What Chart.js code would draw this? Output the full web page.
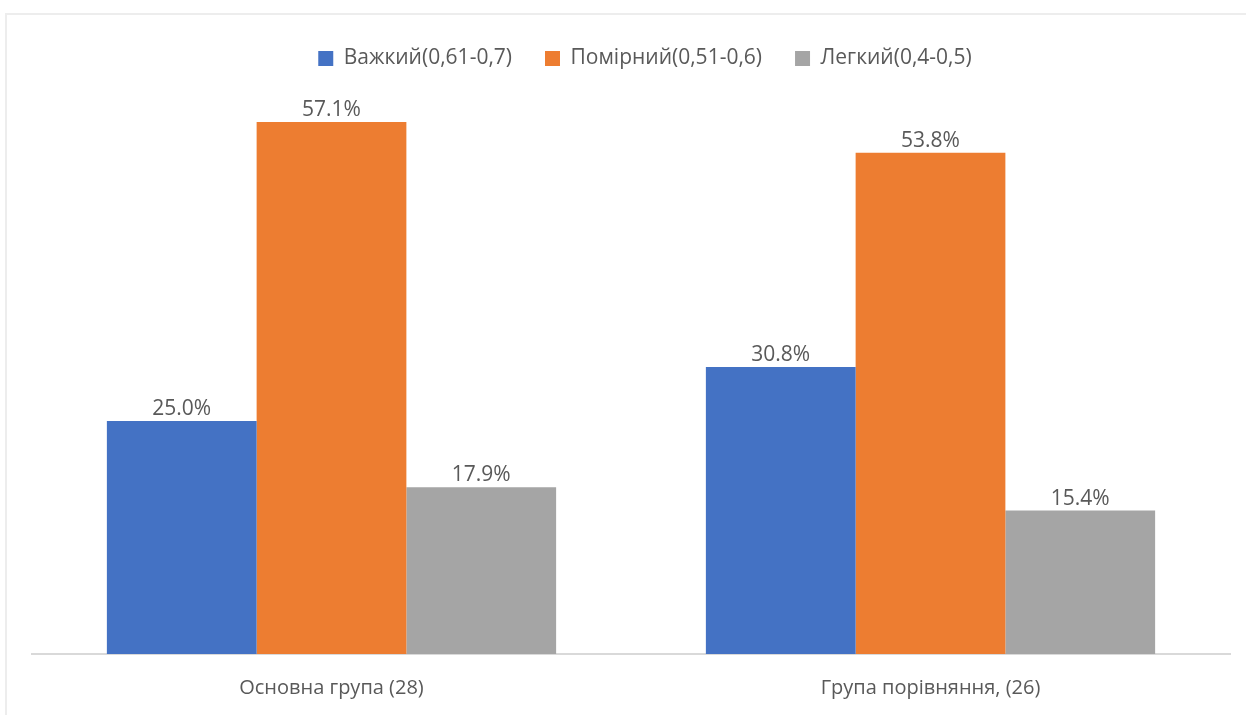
<!DOCTYPE html>
<html>
<head>
<meta charset="utf-8">
<script src="https://cdn.jsdelivr.net/npm/chart.js@4"></script>
<style>
  body { margin: 0; background: #fff; }
  #frame { position: absolute; left: 5px; top: 13px; width: 1400px; height: 800px; border: 2px solid #ededed; }
  #wrap { position: absolute; left: 0; top: 0; width: 1246px; height: 715px; }
</style>
</head>
<body>
<div id="frame"></div>
<div id="wrap"><canvas id="chart"></canvas></div>
<script>
// Chart data
const categories = ['Основна група (28)', 'Група порівняння, (26)'];
const seriesNames = ['Важкий(0,61-0,7)', 'Помірний(0,51-0,6)', 'Легкий(0,4-0,5)'];
const severe = [25.0, 30.8];
const moderate = [57.1, 53.8];
const mild = [17.9, 15.4];

const textColor = '#595959';
const fontFamily = "'Open Sans', 'DejaVu Sans', sans-serif";

// Value labels above bars
const barLabels = {
  id: 'barLabels',
  afterDatasetsDraw(chart) {
    const ctx = chart.ctx;
    ctx.save();
    ctx.font = '21px ' + fontFamily;
    ctx.fillStyle = textColor;
    ctx.textAlign = 'center';
    ctx.textBaseline = 'middle';
    chart.data.datasets.forEach((ds, i) => {
      chart.getDatasetMeta(i).data.forEach((bar, j) => {
        ctx.fillText(ds.data[j].toFixed(1) + '%', bar.x, bar.y - 12);
      });
    });
    ctx.restore();
  }
};

// Extra room under the legend, legend nudged a bit to the right
const legendSpacer = {
  id: 'legendSpacer',
  beforeInit(chart) {
    const fit = chart.legend.fit;
    chart.legend.fit = function () {
      fit.call(this);
      this.height += 16;
    };
  },
  afterLayout(chart) {
    chart.legend.left += 14;
    chart.legend.right += 14;
  }
};

new Chart(document.getElementById('chart'), {
  type: 'bar',
  data: {
    labels: categories,
    datasets: [
      { label: seriesNames[0], data: severe, backgroundColor: '#4472C4' },
      { label: seriesNames[1], data: moderate, backgroundColor: '#ED7D31' },
      { label: seriesNames[2], data: mild, backgroundColor: '#A5A5A5' },
    ],
  },
  options: {
    responsive: true,
    maintainAspectRatio: false,
    animation: false,
    layout: { padding: { top: 15, left: 32, right: 16, bottom: 1 } },
    datasets: { bar: { categoryPercentage: 0.75, barPercentage: 1.0 } },
    plugins: {
      legend: {
        position: 'top',
        labels: {
          boxWidth: 15,
          boxHeight: 15,
          padding: 33,
          color: textColor,
          font: { family: fontFamily, size: 21 },
        },
      },
      tooltip: { enabled: false },
    },
    scales: {
      x: {
        grid: { display: false },
        border: { display: true, color: '#d9d9d9', width: 2 },
        ticks: { color: textColor, padding: 14, font: { family: fontFamily, size: 20 } },
      },
      y: {
        display: false,
        min: 0,
        max: 60,
      },
    },
  },
  plugins: [legendSpacer, barLabels],
});
</script>
</body>
</html>
